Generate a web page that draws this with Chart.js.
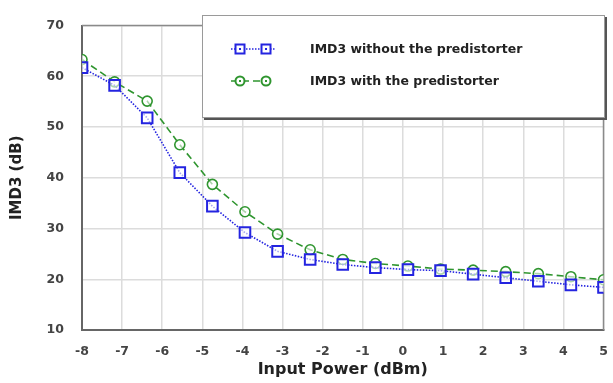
<!DOCTYPE html>
<html>
<head>
<meta charset="utf-8">
<script src="https://cdn.jsdelivr.net/npm/chart.js@4"></script>
<style>
  html, body { margin: 0; padding: 0; background: #fff; }
  #wrap { width: 613px; height: 383px; position: relative; }
</style>
</head>
<body>
<div id="wrap"><canvas id="chart" width="613" height="383"></canvas></div>
<script>
// Input power sweep (dBm), 17 points from -8 to 5
const inputPower = [-8, -7.1875, -6.375, -5.5625, -4.75, -3.9375, -3.125, -2.3125, -1.5,
  -0.6875, 0.125, 0.9375, 1.75, 2.5625, 3.375, 4.1875, 5];

// IMD3 (dB)
const imd3Without = [61.7, 58.2, 51.8, 41.0, 34.4, 29.2, 25.5, 23.9, 22.9, 22.3, 21.9, 21.7, 21.0, 20.3, 19.6, 18.9, 18.4];
const imd3With = [63.3, 58.9, 55.1, 46.5, 38.7, 33.3, 28.9, 25.8, 23.9, 23.1, 22.6, 22.0, 21.8, 21.5, 21.1, 20.5, 19.9];

const legendLabels = ['IMD3 without the predistorter', 'IMD3 with the predistorter'];

const xTicks = { min: -8, max: 5, step: 1 };
const yTicks = { min: 10, max: 70, step: 10 };

const blue = '#2424e0';
const green = '#2f952f';

function toPoints(values) {
  return inputPower.map((x, i) => ({ x: x, y: values[i] }));
}

// Plot frame (top/right border) and the boxed legend
const framePlugin = {
  id: 'frame',
  beforeDatasetsDraw(chart) {
    const { ctx, chartArea: a } = chart;
    ctx.save();
    ctx.strokeStyle = '#8a8a8a';
    ctx.lineWidth = 1.5;
    ctx.beginPath();
    ctx.moveTo(a.left, a.top);
    ctx.lineTo(a.right, a.top);
    ctx.lineTo(a.right, a.bottom);
    ctx.stroke();
    ctx.restore();
  },
  afterDraw(chart) {
    const { ctx } = chart;
    const box = { x: 202, y: 15, w: 403, h: 103 };
    ctx.save();
    // shadow on right / bottom
    ctx.fillStyle = '#555';
    ctx.fillRect(box.x + 2, box.y + 2, box.w, box.h);
    ctx.fillStyle = '#fff';
    ctx.fillRect(box.x, box.y, box.w, box.h);
    ctx.strokeStyle = '#9a9a9a';
    ctx.lineWidth = 1;
    ctx.strokeRect(box.x + 0.5, box.y + 0.5, box.w - 1, box.h - 1);

    const rows = [
      { y: 49, color: blue, dash: [1.5, 1.5], marker: 'rect' },
      { y: 81, color: green, dash: [7, 4], marker: 'circle' },
    ];
    rows.forEach((r, i) => {
      ctx.strokeStyle = r.color;
      ctx.lineWidth = 1.5;
      ctx.setLineDash(r.dash);
      ctx.beginPath();
      ctx.moveTo(231, r.y);
      ctx.lineTo(275, r.y);
      ctx.stroke();
      ctx.setLineDash([]);
      ctx.lineWidth = 2;
      [240, 266].forEach((mx) => {
        ctx.fillStyle = '#fff';
        if (r.marker === 'rect') {
          ctx.fillRect(mx - 4.5, r.y - 4.5, 9, 9);
          ctx.strokeRect(mx - 4.5, r.y - 4.5, 9, 9);
        } else {
          ctx.beginPath();
          ctx.arc(mx, r.y, 4.5, 0, Math.PI * 2);
          ctx.fill();
          ctx.stroke();
        }
        ctx.fillStyle = r.color;
        ctx.fillRect(mx - 1, r.y - 1, 2, 2);
      });
      ctx.fillStyle = '#222';
      ctx.font = 'bold 12.5px "DejaVu Sans"';
      ctx.textBaseline = 'middle';
      ctx.fillText(legendLabels[i], 310, r.y + 1);
    });
    ctx.restore();
  },
};

new Chart(document.getElementById('chart'), {
  type: 'line',
  data: {
    datasets: [
      {
        label: legendLabels[0],
        data: toPoints(imd3Without),
        borderColor: blue,
        borderWidth: 1.6,
        borderDash: [1.5, 1.5],
        pointStyle: 'rect',
        pointRadius: 7.5,
        pointBorderWidth: 2,
        pointBackgroundColor: 'rgba(255,255,255,0.6)',
        pointBorderColor: blue,
        tension: 0,
      },
      {
        label: legendLabels[1],
        data: toPoints(imd3With),
        borderColor: green,
        borderWidth: 1.6,
        borderDash: [7, 4],
        pointStyle: 'circle',
        pointRadius: 5,
        pointBorderWidth: 1.6,
        pointBackgroundColor: 'rgba(255,255,255,0.6)',
        pointBorderColor: green,
        tension: 0,
      },
    ],
  },
  options: {
    responsive: false,
    animation: false,
    layout: { padding: { top: 15, right: 0, left: 4, bottom: 0 } },
    plugins: {
      legend: { display: false },
      tooltip: { enabled: false },
    },
    scales: {
      x: {
        type: 'linear',
        min: xTicks.min,
        max: xTicks.max,
        ticks: {
          stepSize: xTicks.step,
          color: '#444',
          font: { family: 'DejaVu Sans', size: 12.5, weight: 'bold' },
          padding: 14,
        },
        grid: { color: '#dcdcdc', lineWidth: 1.5, drawTicks: false },
        border: { color: '#666', width: 2 },
        title: {
          display: true,
          text: 'Input Power (dBm)',
          color: '#222',
          font: { family: 'DejaVu Sans', size: 16, weight: 'bold' },
          padding: { top: 4 },
        },
        afterFit(scale) {
          scale.height = 53;
          scale.paddingRight = 0;
        },
      },
      y: {
        min: yTicks.min,
        max: yTicks.max,
        ticks: {
          stepSize: yTicks.step,
          color: '#444',
          font: { family: 'DejaVu Sans', size: 12.5, weight: 'bold' },
          padding: 18,
        },
        grid: { color: '#dcdcdc', lineWidth: 1.5, drawTicks: false },
        border: { color: '#666', width: 2 },
        title: {
          display: true,
          text: 'IMD3 (dB)',
          color: '#222',
          font: { family: 'DejaVu Sans', size: 15, weight: 'bold' },
          padding: { bottom: 0 },
        },
        afterFit(scale) { scale.width = 78; },
      },
    },
  },
  plugins: [framePlugin],
});
</script>
</body>
</html>
